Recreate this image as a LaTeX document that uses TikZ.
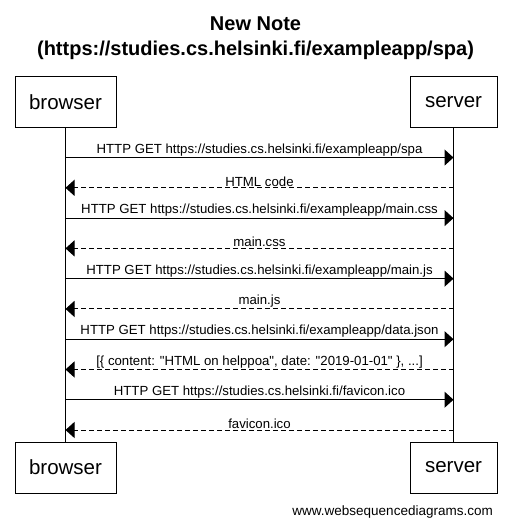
\documentclass[tikz,border=0pt]{standalone}
\usepackage{fontspec}
\setmainfont{Liberation Sans}
\usetikzlibrary{arrows.meta,positioning}

\begin{document}
\begin{tikzpicture}[x=1pt,y=-1pt,
    actor/.style={draw,line width=1pt,minimum height=51pt,inner sep=0pt,
      font=\fontsize{20.5}{23}\selectfont},
    req/.style={line width=1pt,-{Triangle[length=9pt,width=16pt]}},
    resp/.style={req,dash pattern=on 5pt off 3pt},
    msglabel/.style={above,inner sep=1.2pt,font=\fontsize{13.2}{15}\selectfont}]
  \useasboundingbox (0,0) rectangle (511,526);

  % Title.
  \node[align=center,font=\bfseries\fontsize{20}{25.5}\selectfont] (title) at (255.5,38)
    {New Note\\(https://studies.cs.helsinki.fi/exampleapp/spa)};

  % Participants and lifelines.
  \node[actor,minimum width=101pt] (browsertop) at (65.5,102.5) {browser};
  \node[actor,minimum width=87pt] (servertop) at (453.5,102.5) {server};
  \node[actor,minimum width=101pt] (browserbot) at (65.5,467.5) {browser};
  \node[actor,minimum width=87pt] (serverbot) at (453.5,467.5) {server};
  \draw[line width=1pt] (browsertop.south) -- (browserbot.north);
  \draw[line width=1pt] (servertop.south) -- (serverbot.north);

  % Message anchors on the lifelines.
  \foreach \i in {1,...,10}{
    \coordinate (b\i) at (65.5,127.3+30.27*\i);
    \coordinate (s\i) at (453.5,127.3+30.27*\i);
  }

  % Messages.
  \draw[req] (b1) -- node[msglabel] {HTTP GET https://studies.cs.helsinki.fi/exampleapp/spa} (s1);
  \draw[resp] (s2) -- node[msglabel] {HTML code} (b2);
  \draw[req] (b3) -- node[msglabel] {HTTP GET https://studies.cs.helsinki.fi/exampleapp/main.css} (s3);
  \draw[resp] (s4) -- node[msglabel] {main.css} (b4);
  \draw[req] (b5) -- node[msglabel] {HTTP GET https://studies.cs.helsinki.fi/exampleapp/main.js} (s5);
  \draw[resp] (s6) -- node[msglabel] {main.js} (b6);
  \draw[req] (b7) -- node[msglabel] {HTTP GET https://studies.cs.helsinki.fi/exampleapp/data.json} (s7);
  \draw[resp] (s8) -- node[msglabel] {[\{ content: \textquotedbl HTML on helppoa\textquotedbl, date: \textquotedbl 2019-01-01\textquotedbl\ \}, ...]} (b8);
  \draw[req] (b9) -- node[msglabel] {HTTP GET https://studies.cs.helsinki.fi/favicon.ico} (s9);
  \draw[resp] (s10) -- node[msglabel] {favicon.ico} (b10);

  % Credit line.
  \node[anchor=east,inner sep=0pt,font=\fontsize{13.5}{15}\selectfont] (credit) at (493,512.5)
    {www.websequencediagrams.com};
\end{tikzpicture}
\end{document}
